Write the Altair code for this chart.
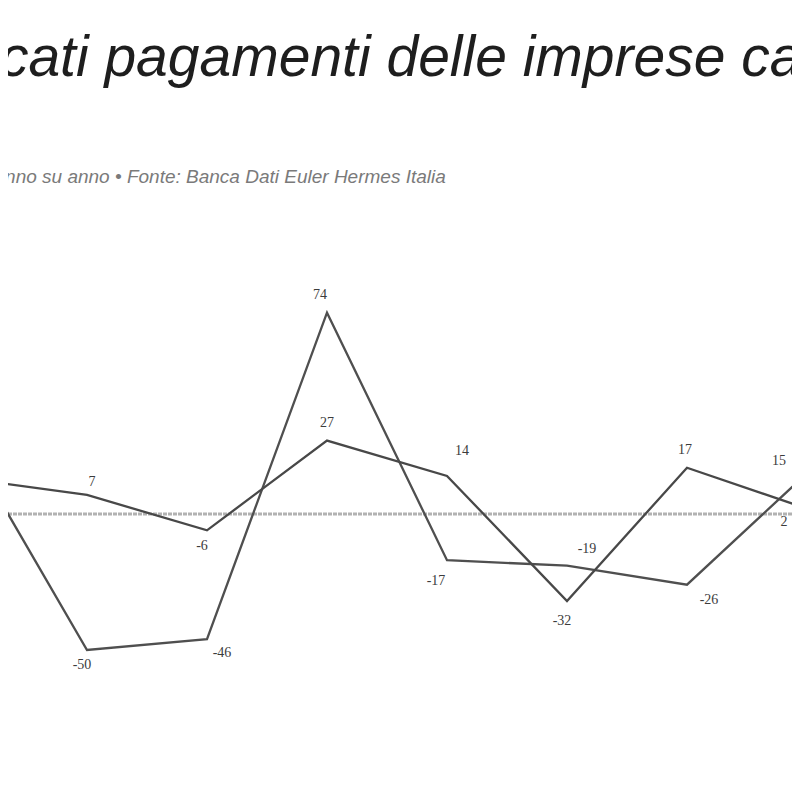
import altair as alt
import pandas as pd

# ---- data ----
periodi = [0, 1, 2, 3, 4, 5, 6, 7]          # position index of each period
campania = [26, -50, -46, 74, -17, -19, -26, 15]
italia = [13, 7, -6, 27, 14, -32, 17, 2]
serie_nomi = ["Campania", "Italia"]

titolo = "Mancati pagamenti delle imprese campane"
sottotitolo = "Variazione % anno su anno  \u2022  Fonte: Banca Dati Euler Hermes Italia"

# ---- style: label offsets in pixels (dx, dy) per series / point ----
label_off = {
    "Campania": [(0, -16), (-5, 15), (15, 14), (-7, -18), (-11, 21), (20, -17), (22, 15), (-28, -12)],
    "Italia":   [(0, -16), (5, -13), (-5, 16), (0, -18), (15, -25), (-5, 20), (-2, -18), (-23, 13)],
}

W, H = 784, 784
X_DOM = [0.3417, 6.875]
Y_DOM = [-102.2, 186.0]
px_x = W / (X_DOM[1] - X_DOM[0])
px_y = H / (Y_DOM[1] - Y_DOM[0])

rows = []
for nome, vals in zip(serie_nomi, [campania, italia]):
    for i, v in zip(periodi, vals):
        dx, dy = label_off[nome][i]
        rows.append({
            "periodo": i, "valore": v, "serie": nome,
            "lx": i + dx / px_x, "ly": v - dy / px_y, "lab": str(v),
        })
df = pd.DataFrame(rows)

xs = alt.Scale(domain=X_DOM, zero=False, nice=False)
ys = alt.Scale(domain=Y_DOM, zero=False, nice=False)

base = alt.Chart(df)

zero = alt.Chart(pd.DataFrame({"z": [0]})).mark_rule(
    color="#b2b2b2", strokeWidth=3, strokeDash=[4, 1]
).encode(y=alt.Y("z:Q", scale=ys, axis=None))

lines = base.mark_line(clip=True, strokeWidth=2.3, strokeJoin="miter").encode(
    x=alt.X("periodo:Q", scale=xs, axis=None),
    y=alt.Y("valore:Q", scale=ys, axis=None),
    color=alt.Color("serie:N", scale=alt.Scale(domain=serie_nomi, range=["#4f4f4f", "#484848"]), legend=None),
)

labels = base.mark_text(
    font="Liberation Serif", fontSize=14, color="#3c3c3c", baseline="middle", align="center"
).encode(
    x=alt.X("lx:Q", scale=xs, axis=None),
    y=alt.Y("ly:Q", scale=ys, axis=None),
    text="lab:N",
)

title_mark = alt.Chart(pd.DataFrame({"t": [titolo]})).mark_text(
    font="Liberation Sans", fontSize=57, fontStyle="italic", color="#1e1e1e",
    align="left", baseline="alphabetic",
).encode(text="t:N", x=alt.value(-119), y=alt.value(68))

sub_mark = alt.Chart(pd.DataFrame({"t": [sottotitolo]})).mark_text(
    font="Liberation Sans", fontSize=19, fontStyle="italic", color="#7a7a7a",
    align="left", baseline="middle",
).encode(text="t:N", x=alt.value(-130), y=alt.value(169))

chart = alt.layer(zero, lines, labels, title_mark, sub_mark).properties(
    width=W, height=H, padding=0,
    autosize=alt.AutoSizeParams(type="none"),
    background="white",
).configure_view(stroke=None)

chart.save("out.html", embed_options={"renderer": "svg", "actions": False})
